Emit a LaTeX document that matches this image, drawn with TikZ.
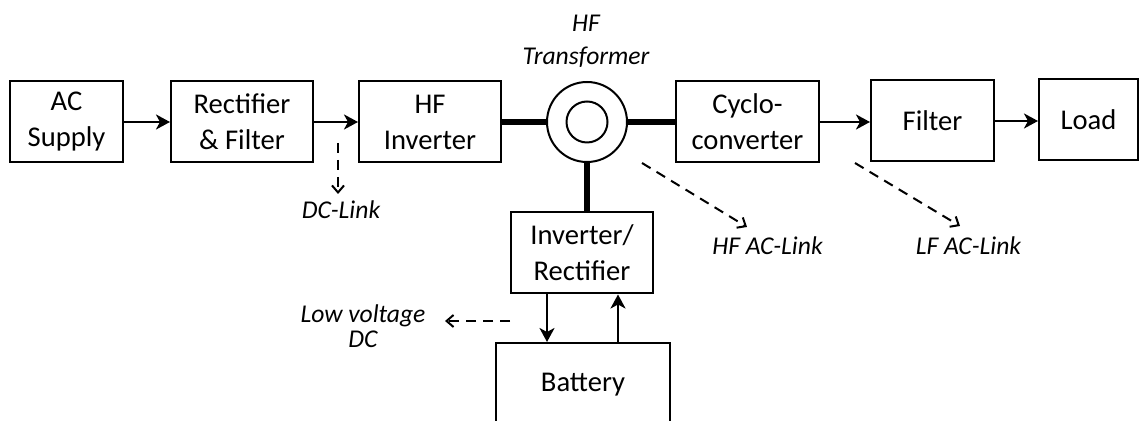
\documentclass[tikz,border=0pt]{standalone}
\usepackage{fontspec}
\setmainfont{Carlito}
\usepackage{tikz}
\usetikzlibrary{arrows.meta}

\begin{document}
\begin{tikzpicture}[block/.style={draw, line width=1pt, minimum height=40.5pt, align=center, inner sep=2pt},
				link/.style={line width=2.6pt},
				flow/.style={->, line width=1.2pt},
				pointer/.style={line width=1pt, dash pattern=on 5pt off 3.5pt, -{Straight Barb[length=3.5pt,width=6pt]}},
				lbl/.style={font=\fontsize{12.8}{16.3}\selectfont\itshape, align=center},
				x=0.5pt, y=-0.5pt,
				>={Stealth[length=7pt,width=7.5pt,inset=2pt]},   %Pfeilspitzen
				font=\fontsize{14.3}{18}\selectfont]
				%Bildbereich
				\clip (0,0) rectangle (1140,421);
				% Bloecke zeichnen
				\node[block, minimum width=56.5pt] (ac) at (66.5,122) {AC\\Supply};
				\node[block, minimum width=71pt] (rect) at (242,122) {Rectifier\\\& Filter};
				\node[block, minimum width=71pt] (hfinv) at (430,122) {HF\\Inverter};
				\node[draw, circle, line width=1pt, minimum size=40pt, inner sep=0pt] (trafo) at (587,122) {};
				\draw[line width=1pt] (trafo) circle [radius=10.25pt];
				\node[block, minimum width=71.5pt] (cyclo) at (747.5,122) {Cyclo-\\converter};
				\node[block, minimum width=61.5pt] (filt) at (932.5,121) {Filter};
				\node[block, minimum width=49.5pt] (load) at (1088.5,120) {Load};
				\node[block, minimum width=71pt] (invrect) at (582,253) {Inverter/\\Rectifier};
				\node[block, minimum width=87pt, minimum height=42pt] (batt) at (583,385) {Battery};
				% Beschriftungen
				\node[lbl] (hft) at (586,41) {HF\\Transformer};
				\node[lbl] (dcl) at (341,210) {DC-Link};
				\node[lbl] (hfac) at (767.5,246) {HF AC-Link};
				\node[lbl] (lfac) at (968.5,246) {LF AC-Link};
				\node[lbl, font=\fontsize{12.8}{12.5}\selectfont\itshape] (lvdc) at (363,326) {Low voltage\\DC};
				% Verbindungen zeichnen
				\draw[flow] (ac) -- (rect);
				\draw[flow] (rect) -- (hfinv);
				\draw[link] (hfinv) -- (trafo);
				\draw[link] (trafo) -- (cyclo);
				\draw[link] (trafo.south) -- (trafo.south |- invrect.north);
				\draw[flow] (cyclo.east) -- (cyclo.east -| filt.west);
				\draw[flow] (filt.east) -- (filt.east -| load.west);
				\coordinate (dn) at ([xshift=-17.5pt]invrect.south);
				\coordinate (up) at ([xshift=18pt]invrect.south);
				\draw[flow] (dn) -- (dn |- batt.north);
				\draw[flow] (up |- batt.north) -- (up);
				% gestrichelte Hinweise
				\coordinate (dcA) at (338,143); \coordinate (dcB) at (338,194);
				\coordinate (hfA) at (642,163); \coordinate (hfB) at (747,227);
				\coordinate (lfA) at (855,163); \coordinate (lfB) at (960,226);
				\coordinate (lvA) at (510,321); \coordinate (lvB) at (445,321);
				\draw[pointer] (dcA) -- (dcB);
				\draw[pointer] (hfA) -- (hfB);
				\draw[pointer] (lfA) -- (lfB);
				\draw[pointer] (lvA) -- (lvB);
			\end{tikzpicture}
\end{document}
